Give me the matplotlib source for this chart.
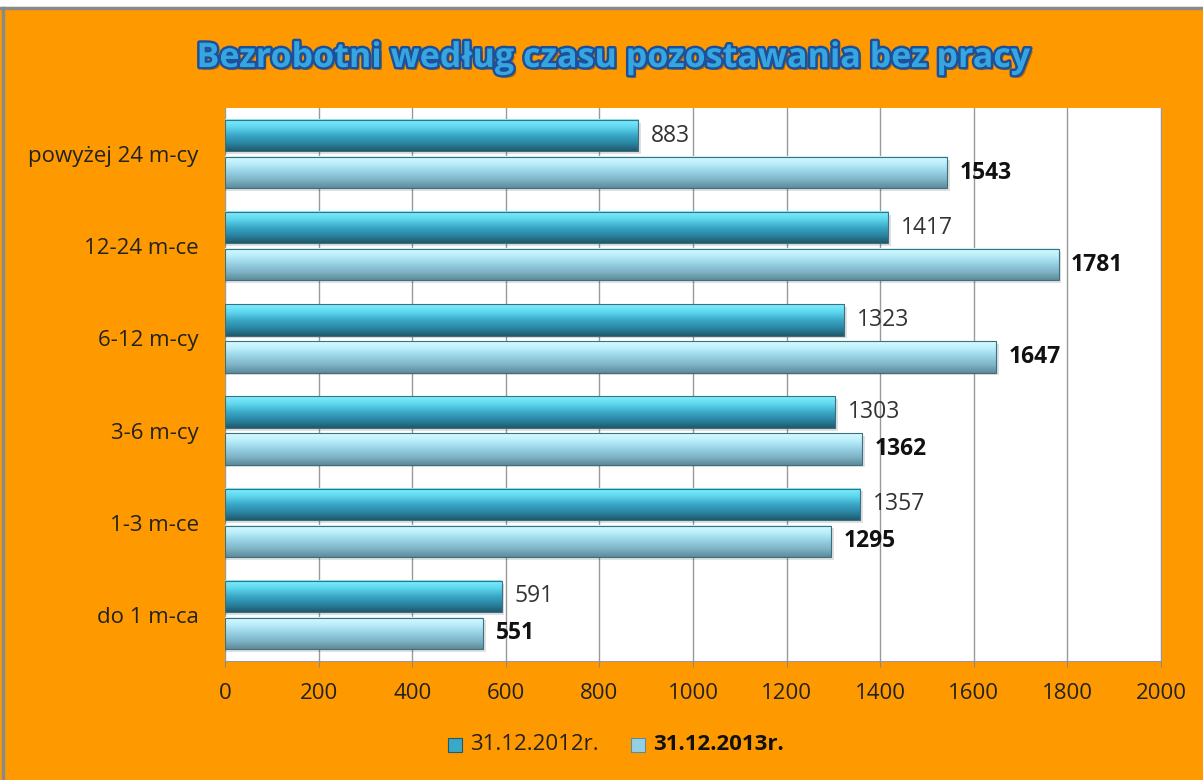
import numpy as np
import matplotlib
matplotlib.use('Agg')
import matplotlib.pyplot as plt
import matplotlib.patheffects as pe
from matplotlib.colors import LinearSegmentedColormap

# data
categories = ['do 1 m-ca', '1-3 m-ce', '3-6 m-cy', '6-12 m-cy', '12-24 m-ce', 'powyżej 24 m-cy']
values_2012 = [591, 1357, 1303, 1323, 1417, 883]
values_2013 = [551, 1295, 1362, 1647, 1781, 1543]
series_names = ['31.12.2012r.', '31.12.2013r.']
x_ticks = [0, 200, 400, 600, 800, 1000, 1200, 1400, 1600, 1800, 2000]
title = 'Bezrobotni według czasu pozostawania bez pracy'

ORANGE = '#FF9900'
FONT = 'Open Sans'

dark_cmap = LinearSegmentedColormap.from_list(
    'dark', ['#1f5a6c', '#2a86a3', '#3aa9c8', '#5fd6ee', '#7ff0ff'])
light_cmap = LinearSegmentedColormap.from_list(
    'light', ['#5f8b99', '#7db4c6', '#95d0e2', '#b8ecfa', '#d6fbff'])

fig = plt.figure(figsize=(12.03, 7.8), dpi=100)
fig.patch.set_facecolor(ORANGE)

# outer frame like the screenshot (white strip on top, grey borders)
fig.add_artist(plt.Rectangle((0, 1 - 8 / 780), 1, 8 / 780, transform=fig.transFigure,
                             facecolor='white', edgecolor='none'))
fig.add_artist(plt.Line2D([0, 1], [1 - 8 / 780] * 2, transform=fig.transFigure,
                          color='#8a8a8a', lw=2.5))
fig.add_artist(plt.Line2D([3 / 1203] * 2, [0, 1 - 8 / 780], transform=fig.transFigure,
                          color='#8a8a8a', lw=2.5))

ax = fig.add_axes([225 / 1203, 1 - 661 / 780, (1161 - 225) / 1203, (661 - 108) / 780])
ax.set_facecolor('white')

y = np.arange(len(categories))
h = 0.34
off = 0.2
grad = np.linspace(0, 1, 64).reshape(-1, 1)

def draw_bars(vals, ypos, cmap):
    for v, yc in zip(vals, ypos):
        # soft shadow
        ax.add_patch(plt.Rectangle((0, yc - h / 2 - 0.03), v + 6, h, facecolor='#000000',
                                   alpha=0.12, edgecolor='none', zorder=2))
        ax.imshow(grad, cmap=cmap, aspect='auto', origin='lower',
                  extent=(0, v, yc - h / 2, yc + h / 2), zorder=3)
        ax.add_patch(plt.Rectangle((0, yc - h / 2), v, h, facecolor='none',
                                   edgecolor='#3d6f80', lw=0.8, zorder=4))

draw_bars(values_2012, y + off, dark_cmap)
draw_bars(values_2013, y - off, light_cmap)

for v, yc in zip(values_2012, y + off):
    ax.text(v + 27, yc, str(v), va='center', ha='left', fontsize=16.5,
            family=FONT, color='#333333', zorder=5)
for v, yc in zip(values_2013, y - off):
    ax.text(v + 27, yc, str(v), va='center', ha='left', fontsize=16.5,
            family=FONT, fontweight='bold', color='#111111', zorder=5)

ax.set_xlim(0, 2000)
ax.set_ylim(-0.5, len(categories) - 0.5)
ax.set_xticks(x_ticks)
ax.set_xticklabels([str(t) for t in x_ticks], fontsize=16, family=FONT, color='#222222')
ax.set_yticks(y)
ax.set_yticklabels(categories, fontsize=16, family=FONT, color='#222222')
ax.tick_params(axis='y', length=0, pad=19)
ax.tick_params(axis='x', length=4, color='#888888', pad=12)
ax.grid(axis='x', color='#999999', lw=1)
ax.set_axisbelow(True)
for side in ['top', 'left']:
    ax.spines[side].set_visible(False)
ax.spines['bottom'].set_color('#999999')
ax.spines['right'].set_color('#999999')

# title with outline effect
fig.text(0.509, 1 - 58 / 780, title, ha='center', va='center', fontsize=24.5,
         family=FONT, fontweight='bold', color='#35a6e0',
         path_effects=[pe.withSimplePatchShadow(offset=(2, -2), shadow_rgbFace='#7a4a00', alpha=0.6),
                       pe.Stroke(linewidth=3.5, foreground='#1d4f9a'), pe.Normal()])

# legend
leg_y = 1 - 745 / 780
fig.add_artist(plt.Rectangle((448 / 1203, leg_y - 7 / 780), 14 / 1203, 14 / 780,
                             transform=fig.transFigure, facecolor='#3aa9c8', edgecolor='#1f5a6c', lw=0.8))
fig.text(470 / 1203, leg_y, series_names[0], va='center', ha='left', fontsize=16,
         family=FONT, color='#222222')
fig.add_artist(plt.Rectangle((631 / 1203, leg_y - 7 / 780), 14 / 1203, 14 / 780,
                             transform=fig.transFigure, facecolor='#95d0e2', edgecolor='#5f8b99', lw=0.8))
fig.text(653 / 1203, leg_y, series_names[1], va='center', ha='left', fontsize=16,
         family=FONT, fontweight='bold', color='#111111')

fig.savefig('out.png', dpi=100, facecolor=fig.get_facecolor())
